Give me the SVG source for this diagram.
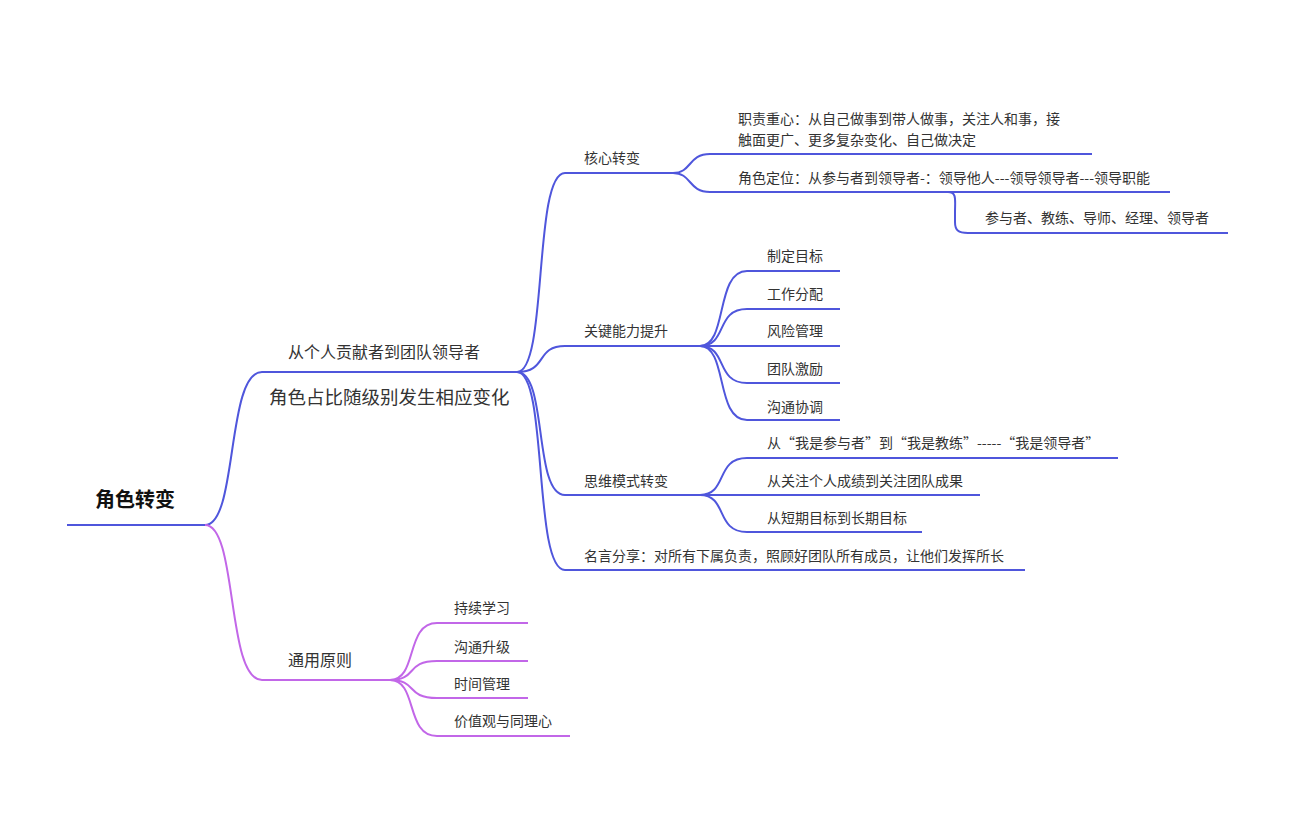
<svg xmlns="http://www.w3.org/2000/svg" width="1296" height="840" viewBox="0 0 1296 840">
<style>
text{font-family:"Noto Sans CJK SC","Noto Sans",sans-serif;fill:#333;font-size:14px}
.root{font-size:20px;font-weight:bold;fill:#111}
.b{fill:none;stroke:#4f56dc;stroke-width:2}
.p{fill:none;stroke:#c267e8;stroke-width:2}
.r{fill:none;stroke:#4f56dc;stroke-width:2}
</style>
<rect width="1296" height="840" fill="#fff"/>
<g id="connectors">
<path class="r" d="M67,525 H205"/>
<path class="b" d="M205,525 C238,525 226,372 262,372 H517"/>
<path class="p" d="M205,525 C238,525 226,680 262,680 H390"/>
<path class="b" d="M517,372 C548,372 533,173 565,173 H673"/>
<path class="b" d="M517,372 C548,372 535,346 565,346 H700"/>
<path class="b" d="M517,372 C548,372 533,495 565,495 H700"/>
<path class="b" d="M517,372 C548,372 533,570 565,570 H1025"/>
<path class="b" d="M673,173 C692,173 688,154 710,154 H1092"/>
<path class="b" d="M673,173 C692,173 688,192 710,192 H1170"/>
<path class="b" d="M948,192 C957,192 955,200 955,212 V222 C955,230 958,233 968,233 H1228"/>
<path class="b" d="M700,346 C728,346 715,271 747,271 H840"/>
<path class="b" d="M700,346 C728,346 715,309 747,309 H840"/>
<path class="b" d="M700,346 H840"/>
<path class="b" d="M700,346 C728,346 715,383 747,383 H840"/>
<path class="b" d="M700,346 C728,346 715,420 747,420 H840"/>
<path class="b" d="M700,495 C728,495 715,458 747,458 H1118"/>
<path class="b" d="M700,495 H980"/>
<path class="b" d="M700,495 C728,495 715,532 747,532 H922"/>
<path class="p" d="M390,680 C418,680 405,623 437,623 H528"/>
<path class="p" d="M390,680 C418,680 405,661 437,661 H528"/>
<path class="p" d="M390,680 C418,680 405,698 437,698 H528"/>
<path class="p" d="M390,680 C418,680 405,736 437,736 H570"/>
</g>
<g id="root"><text class="root" x="95" y="507">角色转变</text></g>
<g id="n1"><text x="288" y="358" style="font-size:16px">从个人贡献者到团队领导者</text><text x="269" y="404" style="font-size:18.5px">角色占比随级别发生相应变化</text></g>
<g id="n1-1"><text x="584" y="163">核心转变</text></g>
<g id="n1-1-1"><text x="738" y="124">职责重心：从自己做事到带人做事，关注人和事，接</text><text x="738" y="145">触面更广、更多复杂变化、自己做决定</text></g>
<g id="n1-1-2"><text x="738" y="183">角色定位：从参与者到领导者-：领导他人---领导领导者---领导职能</text></g>
<g id="n1-1-2-1"><text x="985" y="223">参与者、教练、导师、经理、领导者</text></g>
<g id="n1-2"><text x="584" y="336">关键能力提升</text></g>
<g id="n1-2-1"><text x="767" y="261">制定目标</text></g>
<g id="n1-2-2"><text x="767" y="299">工作分配</text></g>
<g id="n1-2-3"><text x="767" y="336">风险管理</text></g>
<g id="n1-2-4"><text x="767" y="374">团队激励</text></g>
<g id="n1-2-5"><text x="767" y="412">沟通协调</text></g>
<g id="n1-3"><text x="584" y="486">思维模式转变</text></g>
<g id="n1-3-1"><text x="767" y="448">从“我是参与者”到“我是教练”-----“我是领导者”</text></g>
<g id="n1-3-2"><text x="767" y="486">从关注个人成绩到关注团队成果</text></g>
<g id="n1-3-3"><text x="767" y="523">从短期目标到长期目标</text></g>
<g id="n1-4"><text x="584" y="561">名言分享：对所有下属负责，照顾好团队所有成员，让他们发挥所长</text></g>
<g id="n2"><text x="288" y="666" style="font-size:16px">通用原则</text></g>
<g id="n2-1"><text x="454" y="613">持续学习</text></g>
<g id="n2-2"><text x="454" y="652">沟通升级</text></g>
<g id="n2-3"><text x="454" y="689">时间管理</text></g>
<g id="n2-4"><text x="454" y="726">价值观与同理心</text></g>
</svg>
